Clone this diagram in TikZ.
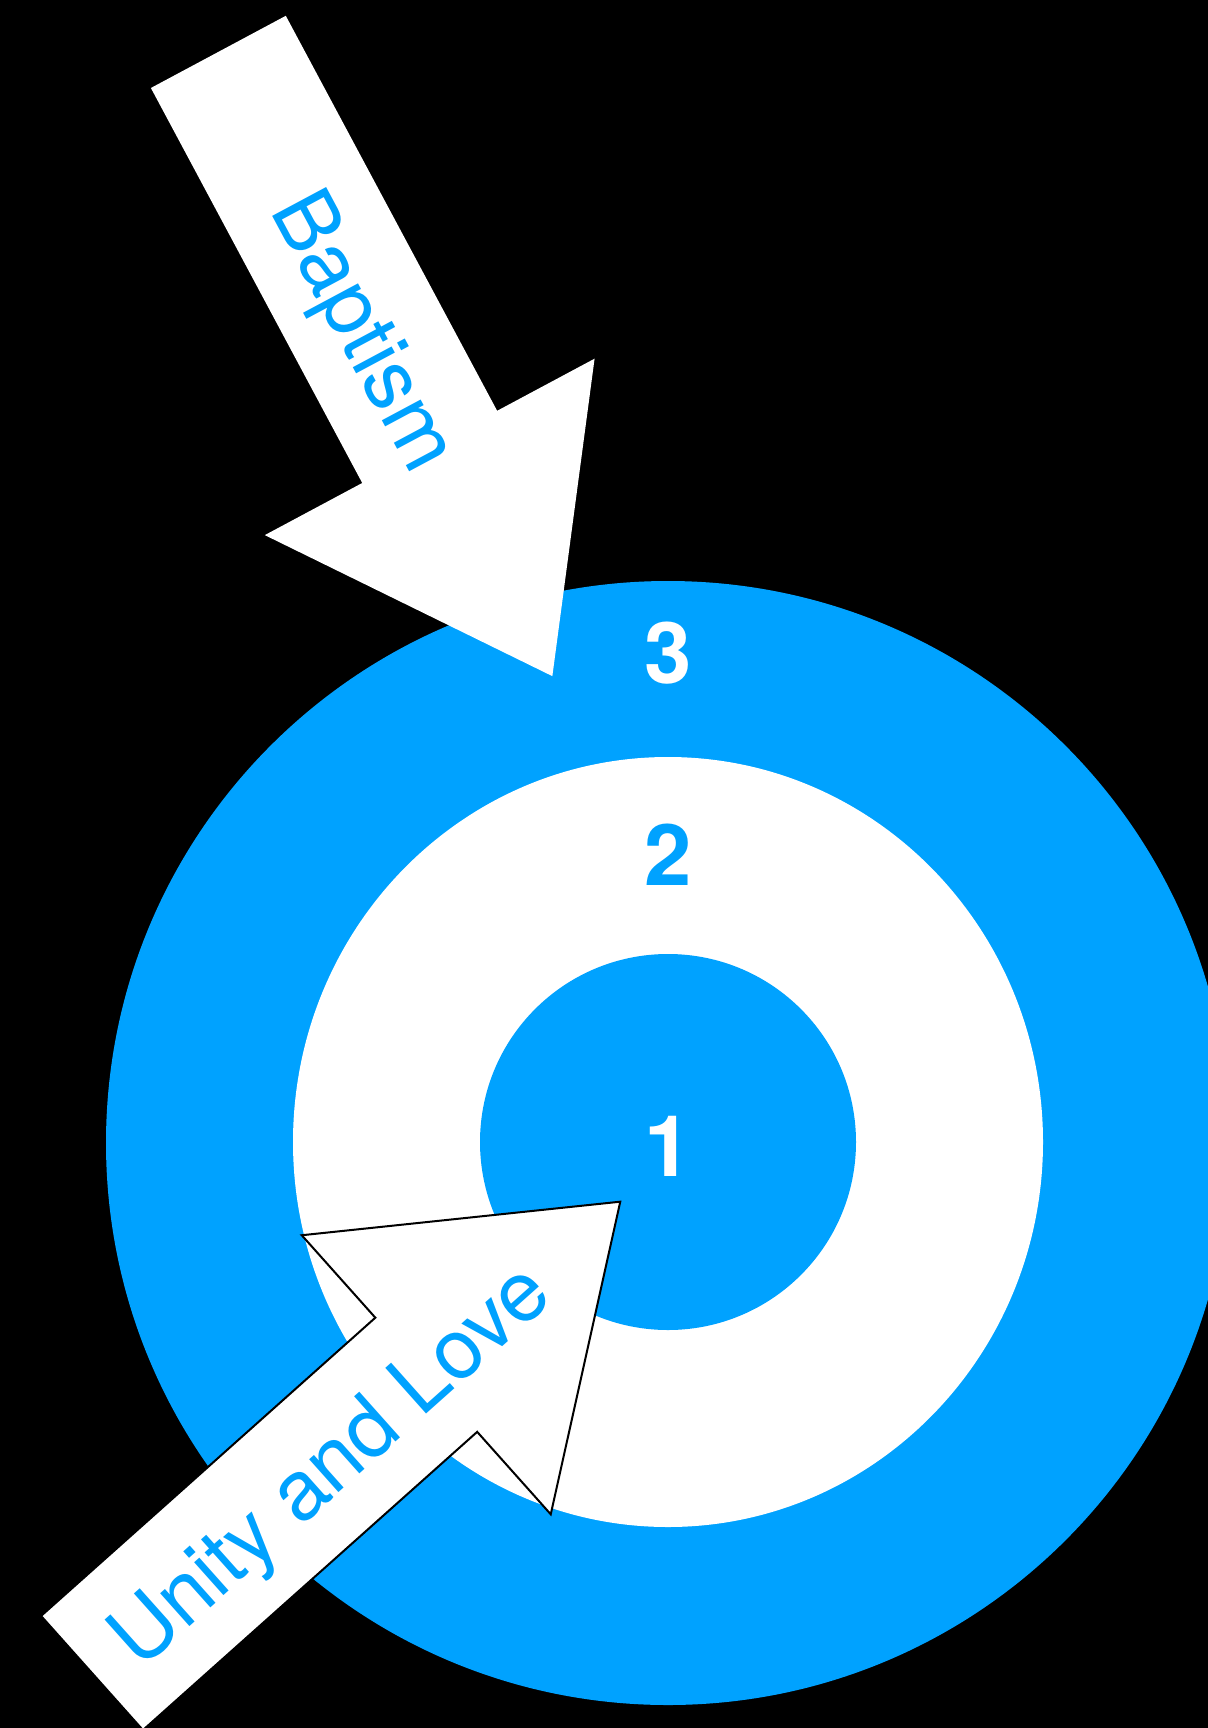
\documentclass[tikz,border=0pt]{standalone}
\usepackage{fontspec}
\setmainfont{TeX Gyre Heros}
\definecolor{ringblue}{RGB}{0,162,255}
\tikzset{
  numlbl/.style={inner sep=0pt, font=\fontsize{42.5pt}{50pt}\selectfont\bfseries},
  arrowlbl/.style={inner sep=0pt, anchor=base, text=ringblue, transform shape,
    font=\fontsize{42pt}{50pt}\selectfont},
  bigarrowshape/.style={fill=white},
}
\begin{document}
\begin{tikzpicture}[x=0.5pt,y=-0.5pt]
\useasboundingbox (0,0) rectangle (1208,1728);
\clip (0,0) rectangle (1208,1728);
\fill[black] (0,0) rectangle (1208,1728);
% rings
\fill[ringblue] (668,1143) circle[radius=562];
\fill[white] (668,1142) ellipse[x radius=375, y radius=385];
\fill[ringblue] (668,1142) circle[radius=188];
% numbers
\node[numlbl, text=white] (n3) at (668,653) {3};
\node[numlbl, text=ringblue] (n2) at (668,855) {2};
\node[numlbl, text=white] (n1) at (668,1146) {1};
% Baptism arrow
\begin{scope}[shift={(218.35,51.9)}, rotate=-61.85]
  \path[bigarrowshape] (0,-76.5) -- (448,-76.5) -- (448,-187) -- (708,0)
     -- (448,187) -- (448,76.5) -- (0,76.5) -- cycle;
  \node[arrowlbl] (bap) at (315,30) {Baptism};
\end{scope}
% Unity and Love arrow
\begin{scope}[shift={(92,1673)}, rotate=41.74]
  \path[bigarrowshape, draw=black, line width=1pt, line join=miter] (0,-76.5) -- (448,-76.5) -- (448,-187) -- (708,0)
     -- (448,187) -- (448,76.5) -- (0,76.5) -- cycle;
  \node[arrowlbl] (ual) at (316,30) {Unity and Love};
\end{scope}
\end{tikzpicture}
\end{document}
